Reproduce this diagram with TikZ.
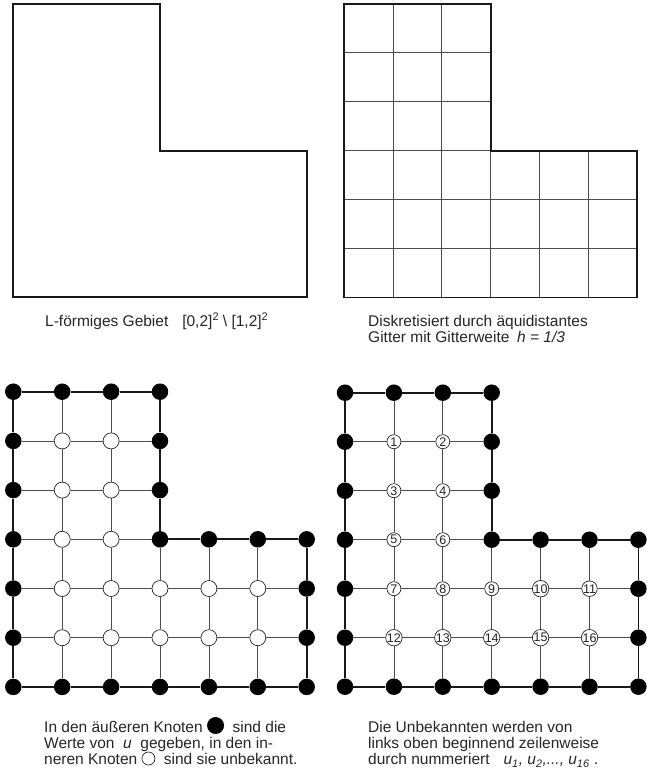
\documentclass[tikz,border=0pt]{standalone}
\usepackage{fontspec}
\setmainfont{Liberation Sans}
\newcommand\lindom[3]{\pgfmathtruncatemacro#1{(#2<=3)||(#3>=3)}}
\newcommand\lbd[3]{\pgfmathtruncatemacro#1{(#2==0)||(#2==6)||(#3==0)||(#3==6)||((#2==3)&&(#3<=3))||((#3==3)&&(#2>=3))}}
\newcommand\suptwo{\raisebox{5.5pt}{\fontsize{11}{11}\selectfont 2}}
\tikzset{
  outline/.style={line width=1.8pt, draw=black!90, line join=miter},
  gridline/.style={line width=0.8pt, draw=black!70},
  bnode/.style={circle, fill=black, minimum size=16.5pt, inner sep=0pt},
  onode/.style={circle, draw=black!85, line width=0.7pt, fill=white, minimum size=16pt, inner sep=0pt},
  numnode/.style={circle, draw=black!85, line width=0.7pt, fill=white, minimum size=14pt, inner sep=0pt,
    font=\fontsize{12.5}{12.5}\selectfont, text=black!85},
  caption/.style={anchor=base west, align=left, inner sep=0pt, text=black!85,
    font=\fontsize{15.5}{16}\selectfont},
}
% #1 prefix, #2 x0, #3 y0, #4 hx, #5 hy, #6 numbered (0/1)
\newcommand\lpanel[6]{%
  \foreach \i in {0,...,6}{\foreach \j in {0,...,6}{%
    \lindom\dA\i\j \lbd\bA\i\j
    \ifnum\dA=1
      \ifnum\bA=1
        \node[bnode] (#1-\i-\j) at ({#2+\i*#4},{#3+\j*#5}) {};
      \else
        \ifnum#6=1
          \ifnum\j<4 \pgfmathtruncatemacro\nn{2*(\j-1)+\i}\else\pgfmathtruncatemacro\nn{6+5*(\j-4)+\i}\fi
          \node[numnode] (#1-\i-\j) at ({#2+\i*#4},{#3+\j*#5}) {\nn};
        \else
          \node[onode] (#1-\i-\j) at ({#2+\i*#4},{#3+\j*#5}) {};
        \fi
      \fi
    \fi
  }}%
  \foreach \i in {0,...,5}{\foreach \j in {0,...,6}{%
    \pgfmathtruncatemacro\ni{\i+1}%
    \lindom\dA\i\j \lindom\dB\ni\j \lbd\bA\i\j \lbd\bB\ni\j
    \pgfmathtruncatemacro\ok{\dA*\dB}%
    \pgfmathtruncatemacro\bb{\bA*\bB}%
    \ifnum\ok=1
      \ifnum\bb=1 \draw[outline] (#1-\i-\j) -- (#1-\ni-\j);
      \else \draw[gridline] (#1-\i-\j) -- (#1-\ni-\j);
      \fi
    \fi
  }}%
  \foreach \i in {0,...,6}{\foreach \j in {0,...,5}{%
    \pgfmathtruncatemacro\nj{\j+1}%
    \lindom\dA\i\j \lindom\dB\i\nj \lbd\bA\i\j \lbd\bB\i\nj
    \pgfmathtruncatemacro\ok{\dA*\dB}%
    \pgfmathtruncatemacro\bb{\bA*\bB}%
    \ifnum\ok=1
      \ifnum\bb=1 \draw[outline] (#1-\i-\j) -- (#1-\i-\nj);
      \else \draw[gridline] (#1-\i-\j) -- (#1-\i-\nj);
      \fi
    \fi
  }}%
}
\begin{document}
\begin{tikzpicture}[x=1pt,y=-1pt]
\useasboundingbox (0,0) rectangle (647,776);
% Panel 1: L-shaped domain
\draw[outline] (12.7,4) -- (160,4) -- (160,151) -- (306.7,151) -- (306.7,297) -- (12.7,297) -- cycle;
\node[caption] (cap1) at (45,326) {L-förmiges Gebiet\hspace{0.9em}[0,2]\suptwo\ \textbackslash\ [1,2]\suptwo};
% Panel 2: discretised domain
\foreach \k in {1,2}{
  \draw[gridline] ({344+\k*48.9},4) -- ({344+\k*48.9},297.4);
}
\foreach \k in {4,5}{
  \draw[gridline] ({344+\k*48.9},150.7) -- ({344+\k*48.9},297.4);
}
\draw[gridline] (490.7,150.7) -- (490.7,297.4);
\foreach \k in {1,2}{
  \draw[gridline] (344,{4+\k*48.9}) -- (491,{4+\k*48.9});
}
\foreach \k in {3,4,5}{
  \draw[gridline] (344,{4+\k*48.9}) -- (637.3,{4+\k*48.9});
}
\draw[outline] (344,4) -- (491,4) -- (491,150.7) -- (637.3,150.7) -- (637.3,297.4) -- (344,297.4) -- cycle;
\node[caption] (cap2) at (368,342) {Diskretisiert durch äquidistantes\\Gitter mit Gitterweite\hspace{0.5em}\textit{h = 1/3}};
% Panel 3: boundary and interior nodes
\lpanel{pc}{13.3}{391.7}{48.9}{49.2}{0}
\node[caption] (cap3) at (44,764.5) {In den äußeren Knoten \smash{\tikz[baseline=-7pt]\fill[black] (0,0) circle (8.5pt);}\ \ sind die\\
Werte von\ \ \textit{u}\ \ gegeben, in den in-\\
neren Knoten \smash{\tikz[baseline=-6pt]\draw[black!85,line width=0.7pt] (0,0) circle (6.5pt);}\ \ sind sie unbekannt.};
% Panel 4: numbered unknowns
\lpanel{pd}{345}{392.7}{48.9}{49.0}{1}
\node[caption] (cap4) at (368,764.5) {Die Unbekannten werden von\\
links oben beginnend zeilenweise\\
durch nummeriert\hspace{0.9em}\textit{u\textsubscript{1}, u\textsubscript{2},..., u\textsubscript{16}} .};
\end{tikzpicture}
\end{document}
